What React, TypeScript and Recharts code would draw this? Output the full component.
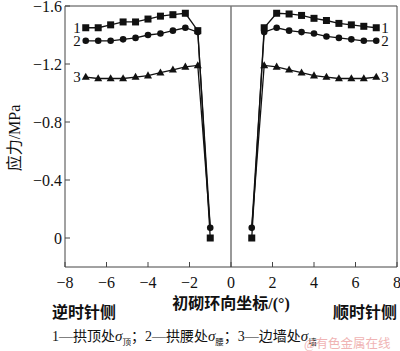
import { LineChart, Line, XAxis, YAxis, ReferenceLine } from 'recharts'

const serif = '"Liberation Serif", "Times New Roman", "Noto Sans CJK SC", serif'
const ink = '#111'

// angular positions (°), counter-clockwise side and clockwise side
const xLeft = [-7.0, -6.4, -5.8, -5.2, -4.6, -4.0, -3.4, -2.8, -2.2, -1.6, -1.0]
const xRight = [1.0, 1.6, 2.2, 2.8, 3.4, 4.0, 4.6, 5.2, 5.8, 6.4, 7.0]

// stress (MPa)
const crownLeft = [-1.45, -1.45, -1.47, -1.49, -1.49, -1.51, -1.53, -1.54, -1.55, -1.43, 0]
const haunchLeft = [-1.36, -1.36, -1.36, -1.37, -1.38, -1.4, -1.41, -1.43, -1.45, -1.42, -0.07]
const wallLeft = [-1.11, -1.1, -1.1, -1.1, -1.11, -1.12, -1.14, -1.16, -1.18, -1.19, -0.07]

const crownRight = [0, -1.45, -1.55, -1.545, -1.535, -1.515, -1.5, -1.48, -1.47, -1.46, -1.45]
const haunchRight = [-0.07, -1.42, -1.45, -1.43, -1.42, -1.41, -1.39, -1.38, -1.37, -1.36, -1.36]
const wallRight = [-0.07, -1.19, -1.18, -1.16, -1.14, -1.12, -1.11, -1.1, -1.1, -1.1, -1.11]

const xTicks = [-8, -6, -4, -2, 0, 2, 4, 6, 8]
const yTicks = [-1.6, -1.2, -0.8, -0.4, 0]

const toRows = (xs: number[], ys: number[]) => xs.map((x, i) => ({ x, y: ys[i] }))

const fmtX = (v: number) => String(v).replace('-', '−')
const fmtY = (v: number) => (v === 0 ? '0' : v.toFixed(1).replace('-', '−'))

type Shape = 'square' | 'circle' | 'triangle'

function marker(shape: Shape, cx: number, cy: number) {
  if (shape === 'square') return <rect x={cx - 3.5} y={cy - 3.5} width={7} height={7} fill={ink} />
  if (shape === 'circle') return <circle cx={cx} cy={cy} r={3.3} fill={ink} />
  return <path d={`M${cx},${cy - 4.3}L${cx + 4},${cy + 2.8}L${cx - 4},${cy + 2.8}Z`} fill={ink} />
}

// dot renderer; also writes the series number next to the outer point
const makeDot = (shape: Shape, tag: string, side: 'left' | 'right', count: number) => (p: any) => {
  const { cx, cy, index, payload } = p
  // the wall series' bottom point sits under the haunch marker in the original
  const hidden = shape === 'triangle' && payload && payload.y > -0.5
  const showTag = side === 'left' ? index === 0 : index === count - 1
  return (
    <g key={`dot-${side}-${shape}-${index}`}>
      {!hidden && marker(shape, cx, cy)}
      {showTag && (
        <text
          x={side === 'left' ? cx - 5 : cx + 5}
          y={cy}
          dy="0.35em"
          textAnchor={side === 'left' ? 'end' : 'start'}
          fontSize={15}
          fontFamily={serif}
          fill={ink}
        >
          {tag}
        </text>
      )}
    </g>
  )
}

const series = [
  { key: 'wall', tag: '3', shape: 'triangle' as Shape, left: wallLeft, right: wallRight },
  { key: 'haunch', tag: '2', shape: 'circle' as Shape, left: haunchLeft, right: haunchRight },
  { key: 'crown', tag: '1', shape: 'square' as Shape, left: crownLeft, right: crownRight },
]

const abs = (style: React.CSSProperties): React.CSSProperties => ({
  position: 'absolute',
  lineHeight: 1,
  whiteSpace: 'nowrap',
  color: ink,
  ...style,
})

function Sigma({ sub }: { sub: string }) {
  return (
    <span>
      <i style={{ fontFamily: serif, fontSize: 15 }}>σ</i>
      <span style={{ fontSize: 8.5, verticalAlign: -4 }}>{sub}</span>
    </span>
  )
}

export default function App() {
  return (
    <div style={{ position: 'absolute', left: 0, top: 0, width: 400, height: 351, background: '#fff', fontFamily: serif }}>
      <LineChart width={400} height={351} margin={{ top: 6, right: 3, left: 0, bottom: 0 }}>
        <XAxis
          type="number"
          dataKey="x"
          domain={[-8, 8]}
          ticks={xTicks}
          interval={0}
          allowDataOverflow
          height={84}
          tickSize={-5}
          tickMargin={15}
          stroke="#444"
          tick={{ fill: ink, fontSize: 16, fontFamily: serif }}
          tickFormatter={fmtX}
        />
        <YAxis
          type="number"
          domain={[-1.6, 0.2]}
          reversed
          ticks={yTicks}
          interval={0}
          allowDataOverflow
          width={65}
          tickSize={-5}
          tickMargin={8}
          stroke="#444"
          tick={{ fill: ink, fontSize: 16, fontFamily: serif }}
          tickFormatter={fmtY}
        />
        <ReferenceLine y={-1.6} stroke="#444" />
        <ReferenceLine x={8} stroke="#444" />
        <ReferenceLine x={0} stroke="#777" strokeWidth={1.5} />
        {series.map((s) => (
          <Line
            key={`${s.key}-left`}
            data={toRows(xLeft, s.left)}
            dataKey="y"
            type="linear"
            stroke={ink}
            strokeWidth={1.3}
            dot={makeDot(s.shape, s.tag, 'left', xLeft.length)}
            activeDot={false}
            isAnimationActive={false}
          />
        ))}
        {series.map((s) => (
          <Line
            key={`${s.key}-right`}
            data={toRows(xRight, s.right)}
            dataKey="y"
            type="linear"
            stroke={ink}
            strokeWidth={1.3}
            dot={makeDot(s.shape, s.tag, 'right', xRight.length)}
            activeDot={false}
            isAnimationActive={false}
          />
        ))}
      </LineChart>

      <div style={abs({ left: 15, top: 138, fontSize: 16, transform: 'translate(-50%, -50%) rotate(-90deg)' })}>
        应力/MPa
      </div>
      <div style={abs({ left: 231, top: 304, fontSize: 16, fontWeight: 600, transform: 'translate(-50%, -50%)' })}>
        初砌环向坐标/(°)
      </div>
      <div style={abs({ left: 52, top: 305, fontSize: 16, fontWeight: 600 })}>逆时针侧</div>
      <div style={abs({ left: 333, top: 305, fontSize: 16, fontWeight: 600 })}>顺时针侧</div>
      <div style={abs({ left: 52, top: 329, fontSize: 14 })}>
        1—拱顶处<Sigma sub="顶" />；2—拱腰处<Sigma sub="腰" />；3—边墙处<Sigma sub="墙" />
      </div>
      <div style={abs({ left: 304, top: 338, fontSize: 12.5, color: '#f0b4b4' })}>@有色金属在线</div>
    </div>
  )
}
